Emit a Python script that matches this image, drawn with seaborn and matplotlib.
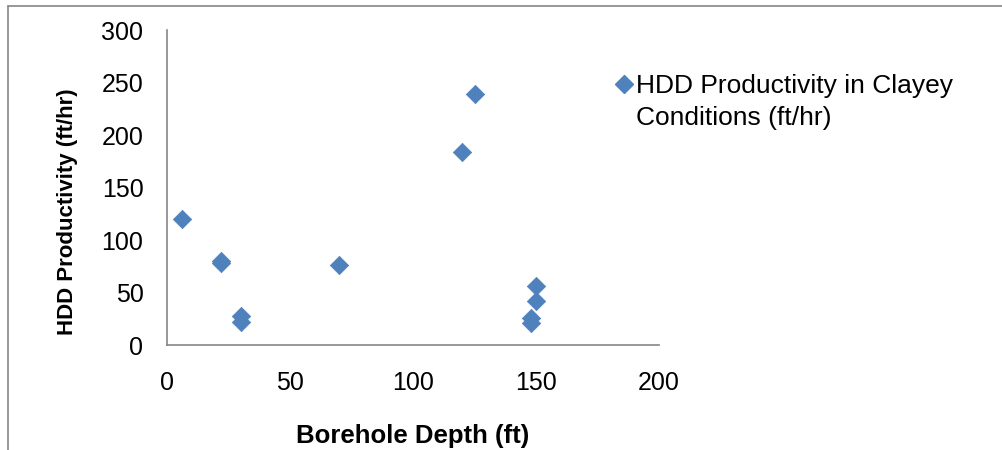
import matplotlib
matplotlib.use("Agg")
import matplotlib.pyplot as plt
import seaborn as sns
import pandas as pd
from matplotlib.lines import Line2D

# Borehole depth (ft) and HDD productivity (ft/hr)
depth = [6, 22, 22, 30, 30, 70, 120, 125, 150, 150, 148, 148]
productivity = [120, 80, 78, 28, 22, 76, 184, 239, 56, 42, 26, 21]
legend_lines = ["HDD Productivity in Clayey", "Conditions (ft/hr)"]
x_ticks = [0, 50, 100, 150, 200]
y_ticks = [0, 50, 100, 150, 200, 250, 300]

df = pd.DataFrame({"depth": depth, "productivity": productivity})

sns.set_style("white")
plt.rcParams["font.family"] = ["Liberation Sans", "DejaVu Sans"]
plt.rcParams["text.color"] = "black"
plt.rcParams["axes.labelcolor"] = "black"

blue = "#4F81BD"
axis_gray = "#868686"

fig = plt.figure(figsize=(10.02, 4.5), dpi=100)
ax = fig.add_axes([0.1667, 0.2333, 0.4910, 0.7000])

sns.scatterplot(data=df, x="depth", y="productivity", ax=ax, marker="D",
                color=blue, edgecolor=blue, linewidth=0.5, s=88, legend=False,
                zorder=3, clip_on=False)

ax.set_xlim(0, 200)
ax.set_ylim(0, 300)
ax.set_xticks(x_ticks)
ax.set_yticks(y_ticks)
ax.tick_params(axis="both", direction="out", length=5, width=1.2,
               color=axis_gray, labelsize=18, labelcolor="black")
ax.tick_params(axis="x", pad=14)
ax.tick_params(axis="y", pad=12)
for side in ("top", "right"):
    ax.spines[side].set_visible(False)
for side in ("left", "bottom"):
    ax.spines[side].set_color(axis_gray)
    ax.spines[side].set_linewidth(1.2)

ax.set_xlabel("Borehole Depth (ft)", fontsize=18.5, fontweight="bold")
ax.set_ylabel("HDD Productivity (ft/hr)", fontsize=16, fontweight="bold")
ax.xaxis.set_label_coords(0.5, -0.25)
ax.yaxis.set_label_coords(-0.181, 0.422)

# Legend: marker beside the first line, second line of the label under it
marker_handle = Line2D([], [], marker="D", linestyle="none", color=blue,
                       markersize=9.5, markeredgecolor=blue)
blank_handle = Line2D([], [], linestyle="none", marker=None)
fig.legend([marker_handle, blank_handle], legend_lines, loc="upper left",
           bbox_to_anchor=(0.612, 0.836), frameon=False, fontsize=19,
           handletextpad=0.05, handlelength=0.8, labelspacing=0.3,
           borderaxespad=0, borderpad=0)

# Chart-area border along the top and left edges
fig.add_artist(Line2D([0.008, 1.0], [0.987, 0.987], transform=fig.transFigure,
                      color=axis_gray, linewidth=1.2))
fig.add_artist(Line2D([0.008, 0.008], [0.0, 0.987], transform=fig.transFigure,
                      color=axis_gray, linewidth=1.2))

fig.savefig("out.png", dpi=100)
